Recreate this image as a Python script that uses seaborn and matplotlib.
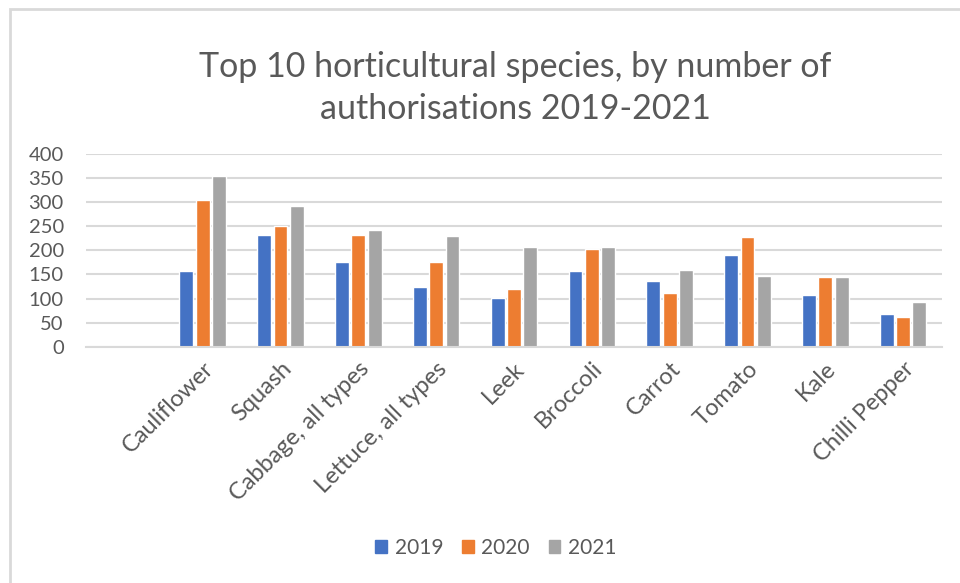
#Top 10 horticultural species by number of authorisations, 2019-2021

import pandas as pd
import matplotlib
matplotlib.use("Agg")
import matplotlib.pyplot as plt
import seaborn as sns
from matplotlib.patches import Patch, Rectangle

species = ['Cauliflower', 'Squash', 'Cabbage, all types', 'Lettuce, all types', 'Leek',
           'Broccoli', 'Carrot', 'Tomato', 'Kale', 'Chilli Pepper']
years = ['2019', '2020', '2021']
auth_2019 = [157, 232, 176, 123, 102, 157, 136, 190, 107, 67]
auth_2020 = [304, 250, 232, 176, 120, 203, 112, 227, 145, 62]
auth_2021 = [354, 293, 242, 229, 206, 206, 160, 147, 145, 93]
yticks = [0, 50, 100, 150, 200, 250, 300, 350, 400]

colours = ['#4472C4', '#ED7D31', '#A5A5A5']
txt = '#595959'
grid = '#D9D9D9'

df = pd.DataFrame({'Species': species * 3,
                   'Year': [y for y in years for _ in species],
                   'Count': auth_2019 + auth_2020 + auth_2021})

sns.set_style('white')
plt.rcParams['font.family'] = ['Lato', 'DejaVu Sans']

fig = plt.figure(figsize=(9.6, 5.83), dpi=100)
ax = fig.add_axes([86/960, 1 - 346.7/583, 856/960, 192.7/583])

sns.barplot(data=df, x='Species', y='Count', hue='Year', order=species, hue_order=years,
            palette=colours, saturation=1, width=0.63, gap=0.15, legend=False, ax=ax)

# empty first slot like the original Excel chart
ax.set_xlim(-1.5, 9.5)
ax.set_ylim(0, 400)
ax.set_yticks(yticks)
ax.yaxis.grid(True, color=grid, lw=1.5)
ax.set_axisbelow(True)
for s in ['top', 'right', 'left']:
    ax.spines[s].set_visible(False)
ax.spines['bottom'].set_color(grid)
ax.spines['bottom'].set_linewidth(1.5)
ax.set_xlabel('')
ax.set_ylabel('')
ax.tick_params(axis='y', length=0, pad=16, labelsize=14.5, labelcolor=txt)
ax.tick_params(axis='x', length=0, pad=8, labelsize=17, labelcolor=txt)
plt.setp(ax.get_xticklabels(), rotation=45, ha='right', va='top', rotation_mode='anchor')

fig.text(515/960, 1 - 88/583, 'Top 10 horticultural species, by number of\nauthorisations 2019-2021',
         ha='center', va='center', fontsize=24.5, color=txt, linespacing=1.4)

handles = [Patch(color=c, label=y) for c, y in zip(colours, years)]
fig.legend(handles=handles, loc='center', bbox_to_anchor=(496/960, 1 - 548/583), ncol=3,
           frameon=False, fontsize=15, labelcolor=txt, handlelength=0.55, handleheight=0.55,
           handletextpad=0.38, columnspacing=0.9)

# chart frame
fig.patches.append(Rectangle((10/960, -0.5), 2, 0.5 + 1 - 9/583, transform=fig.transFigure,
                             fill=False, edgecolor=grid, lw=2))

plt.savefig('out.png', dpi=100)
